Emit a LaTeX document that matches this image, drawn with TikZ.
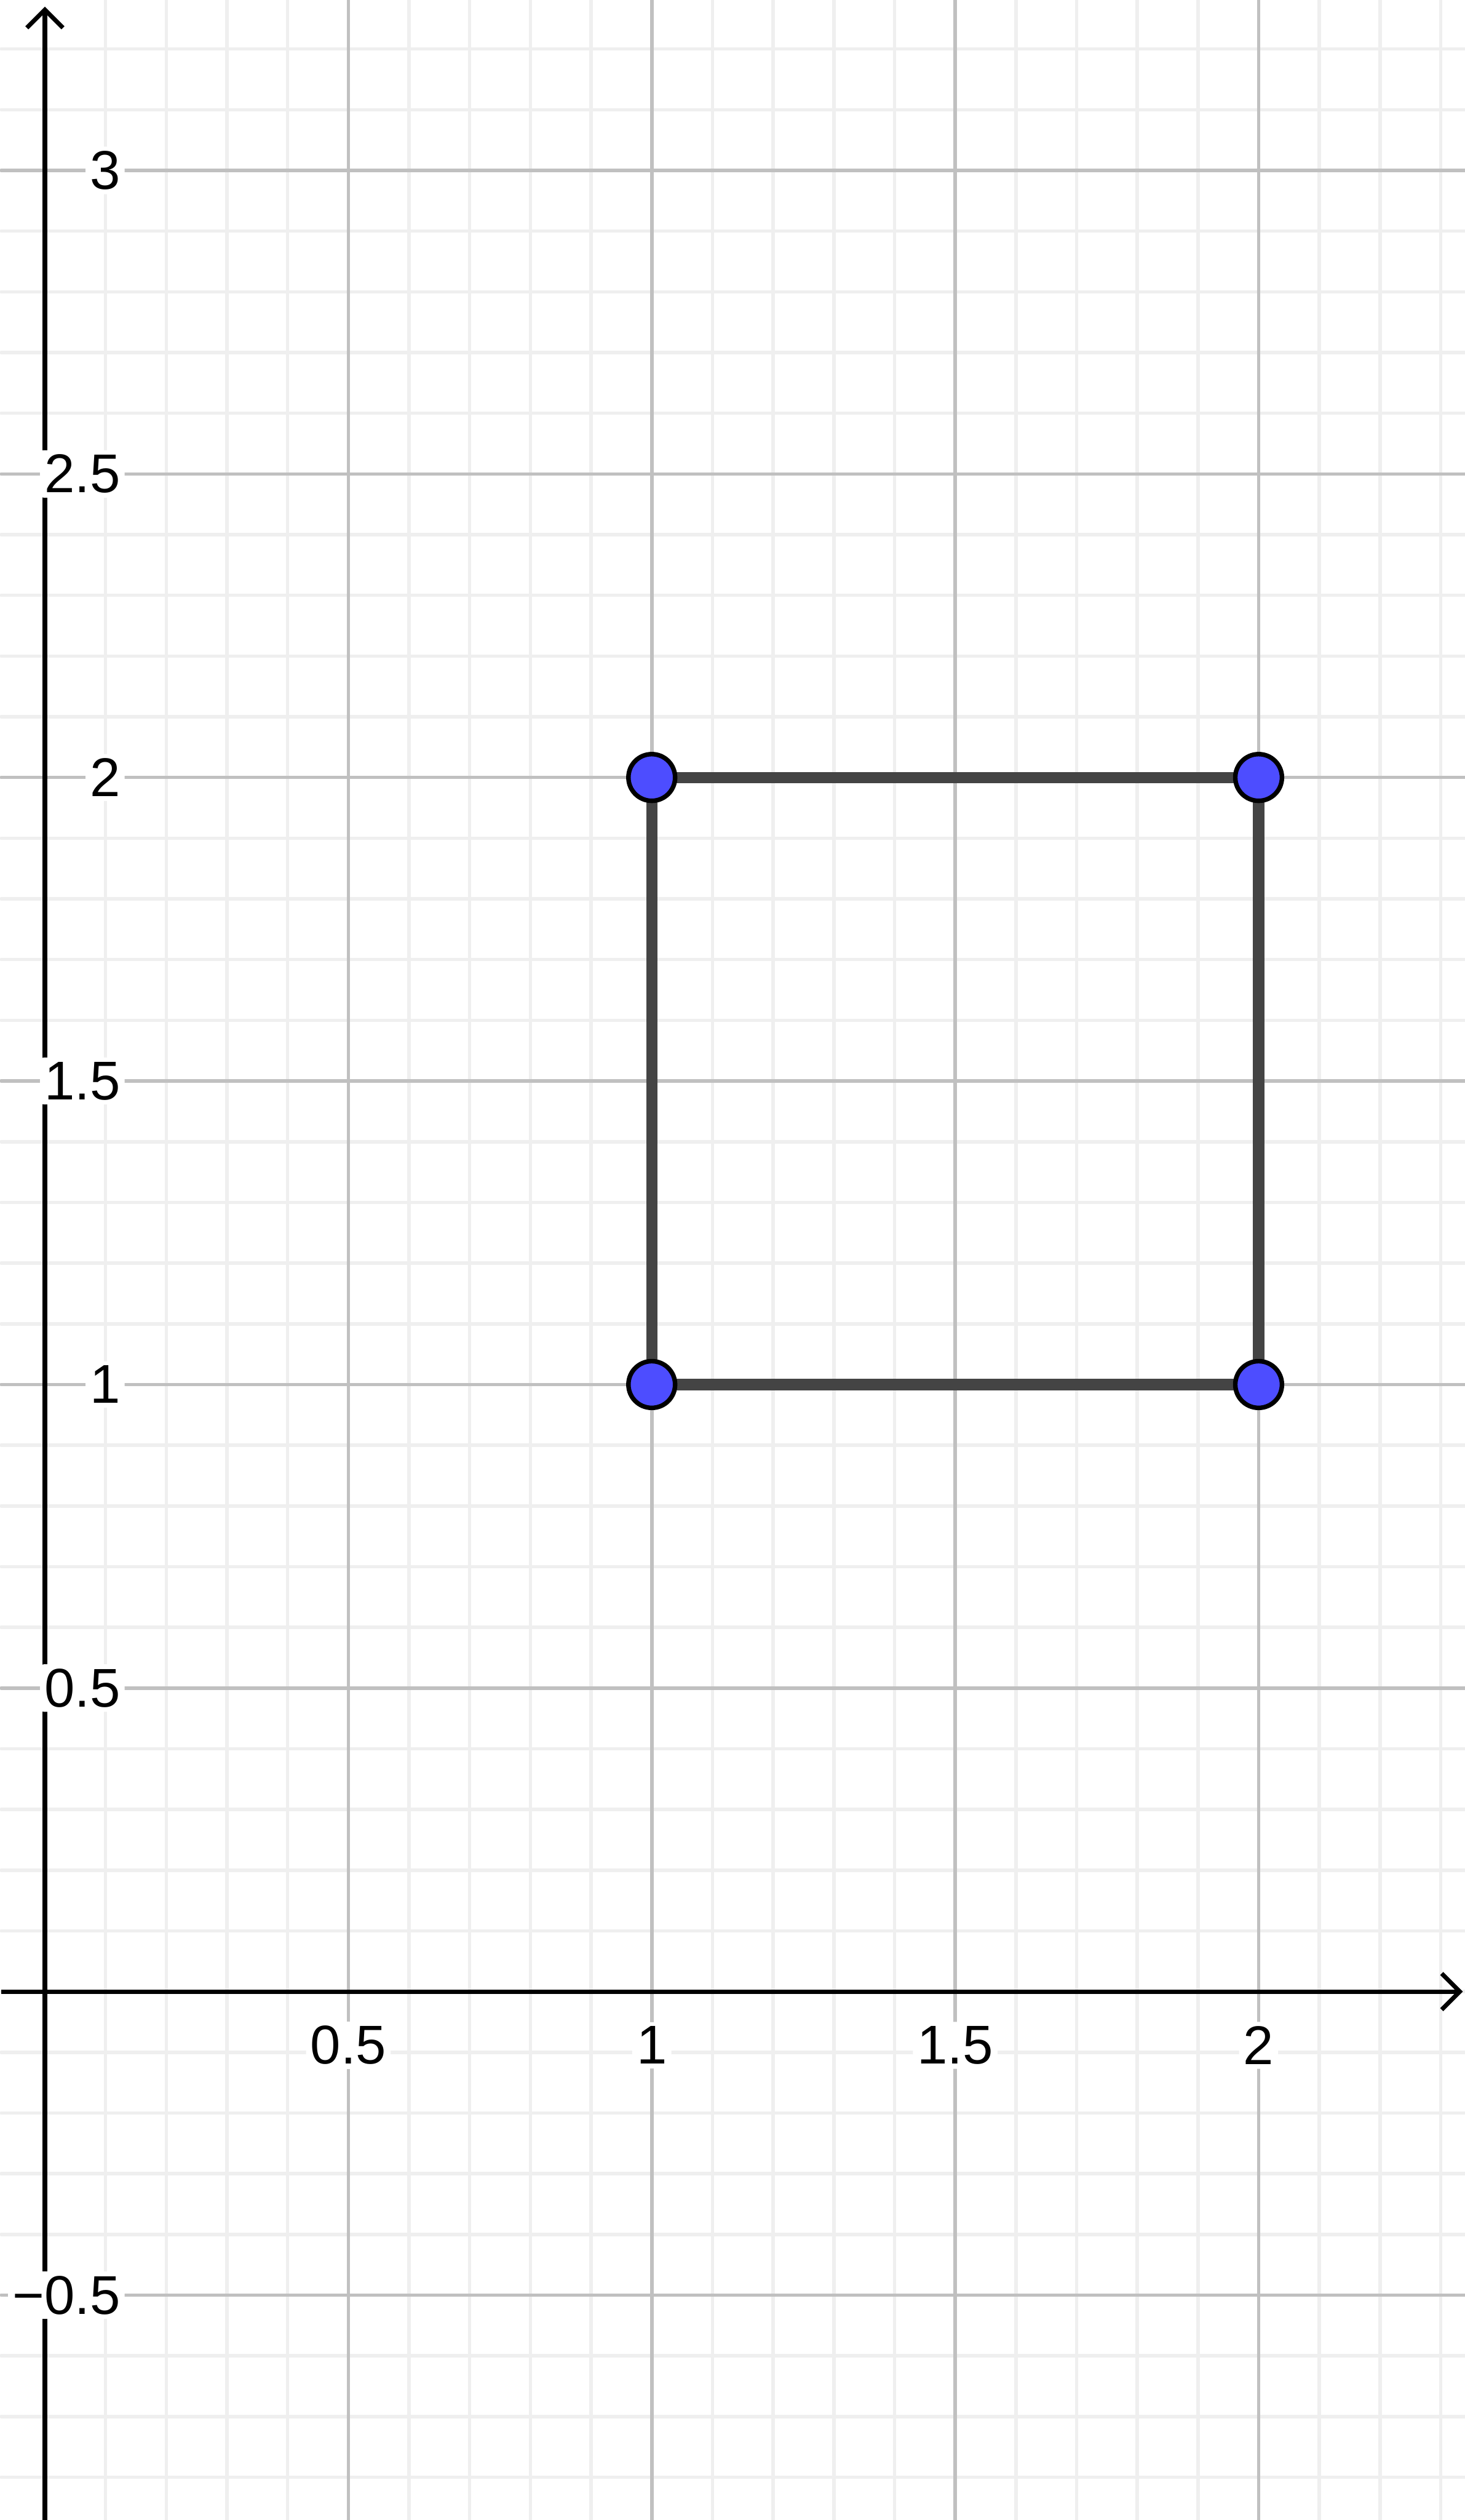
\documentclass[tikz,border=0pt]{standalone}
\usepackage{fontspec}
\setmainfont{Liberation Sans}
\definecolor{minorgrid}{RGB}{239,239,239}
\definecolor{majorgrid}{RGB}{192,192,192}
\definecolor{segcol}{RGB}{68,68,68}
\definecolor{ptblue}{RGB}{77,77,255}
\begin{document}
\begin{tikzpicture}[x=12.43cm,y=12.43cm,
  minorline/.style={draw=minorgrid,line width=0.07cm,line cap=round},
  majorline/.style={draw=majorgrid,line width=0.07cm,line cap=round},
  axisline/.style={draw=black,line width=0.09cm},
  segline/.style={draw=segcol,line width=0.23cm},
  ptnode/.style={circle,draw=black,fill=ptblue,line width=0.093cm,minimum size=0.956cm,inner sep=0pt},
  lab/.style={inner sep=0.09cm,fill=white,rounded corners=0.08cm,font=\fontsize{31.8pt}{38pt}\selectfont},
  ylab/.style={lab,anchor=east,xshift=1.64cm},
  xlab/.style={lab,anchor=center,yshift=-1.10cm}]
\useasboundingbox (-0.92cm,-10.82cm) rectangle (29.08cm,40.78cm);
\fill[white] (-0.92cm,-10.82cm) rectangle (29.08cm,40.78cm);
% minor grid
\foreach \i in {1,...,23} \draw[minorline] (\i/10,-0.8705) -- (\i/10,3.2808);
\foreach \j in {-8,...,32} \draw[minorline] (-0.072,\j/10) -- (2.3395,\j/10);
% major grid
\foreach \i in {0.5,1,1.5,2} \draw[majorline] (\i,-0.8705) -- (\i,3.2808);
\foreach \j in {-0.5,0.5,1,1.5,2,2.5,3} \draw[majorline] (-0.072,\j) -- (2.3395,\j);
% axes
\coordinate (xstart) at (-0.89cm,0);
\coordinate (xtip) at (28.98cm,0);
\coordinate (ystart) at (0,-10.82cm);
\coordinate (ytip) at (0,40.58cm);
\draw[axisline] (xstart) -- (xtip);
\draw[axisline,miter limit=10] (xtip) ++(-0.37cm,0.37cm) -- (xtip) -- +(-0.37cm,-0.37cm);
\draw[axisline] (ystart) -- (ytip);
\draw[axisline,miter limit=10] (ytip) ++(-0.37cm,-0.37cm) -- (ytip) -- +(0.37cm,-0.37cm);
% labels
\node[ylab] (ly30) at (0,3) {3};
\node[ylab] (ly25) at (0,2.5) {2.5};
\node[ylab] (ly20) at (0,2) {2};
\node[ylab] (ly15) at (0,1.5) {1.5};
\node[ylab] (ly10) at (0,1) {1};
\node[ylab] (ly05) at (0,0.5) {0.5};
\node[ylab] (lym05) at (0,-0.5) {−0.5};
\node[xlab] (lx05) at (0.5,0) {0.5};
\node[xlab] (lx10) at (1,0) {1};
\node[xlab] (lx15) at (1.5,0) {1.5};
\node[xlab] (lx20) at (2,0) {2};
% square
\coordinate (A) at (1,1);
\coordinate (B) at (2,1);
\coordinate (C) at (2,2);
\coordinate (D) at (1,2);
\draw[segline] (A) -- (B);
\draw[segline] (B) -- (C);
\draw[segline] (C) -- (D);
\draw[segline] (D) -- (A);
\node[ptnode] (pA) at (A) {};
\node[ptnode] (pB) at (B) {};
\node[ptnode] (pC) at (C) {};
\node[ptnode] (pD) at (D) {};
\end{tikzpicture}
\end{document}
